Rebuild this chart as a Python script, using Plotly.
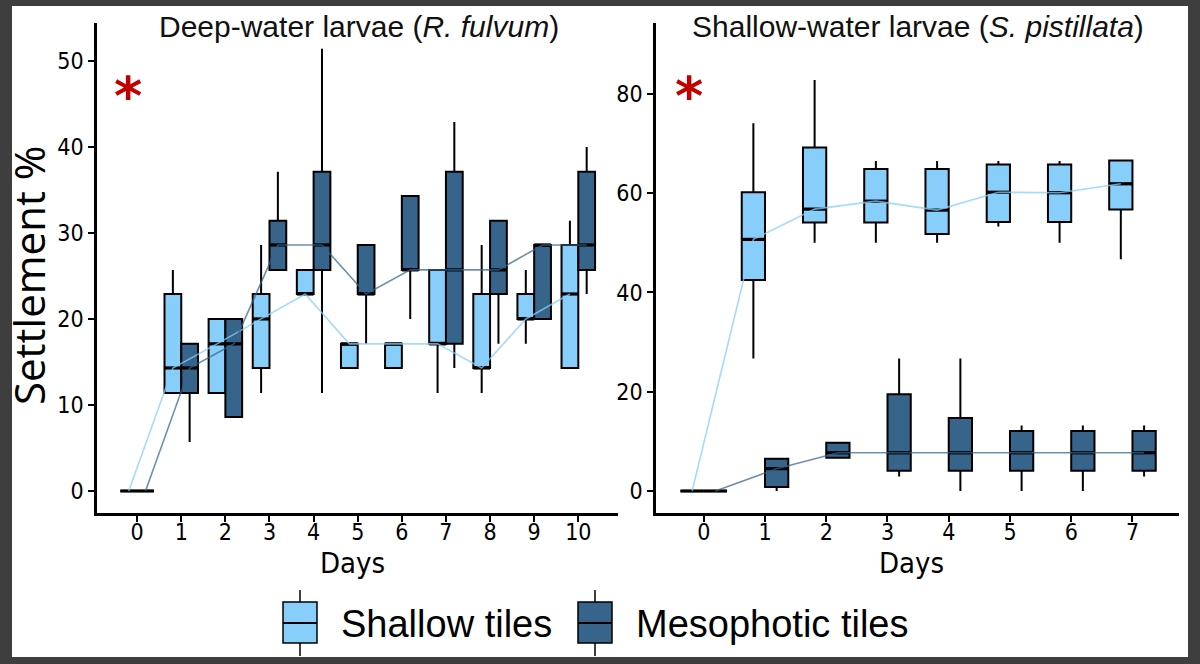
import numpy as np
import plotly.graph_objects as go

# ---- data: deep-water larvae (R. fulvum), days 0-10 ----
days_deep = np.arange(0, 11)
deep_sh_q1 = [0, 11.4, 11.4, 14.3, 22.9, 14.3, 14.3, 17.1, 14.3, 20.0, 14.3]
deep_sh_med = [0, 14.3, 17.1, 20.0, 22.9, 17.1, 17.1, 17.1, 14.3, 20.0, 22.9]
deep_sh_q3 = [0, 22.9, 20.0, 22.9, 25.7, 17.1, 17.1, 25.7, 22.9, 22.9, 28.6]
deep_sh_lo = [0, 11.4, 11.4, 11.4, 22.9, 14.3, 14.3, 11.4, 11.4, 17.1, 14.3]
deep_sh_hi = [0, 25.7, 20.0, 28.6, 25.7, 17.1, 17.1, 25.7, 28.6, 25.7, 31.4]

deep_me_q1 = [0, 11.4, 8.6, 25.7, 25.7, 22.9, 25.7, 17.1, 22.9, 20.0, 25.7]
deep_me_med = [0, 14.3, 17.1, 28.6, 28.6, 22.9, 25.7, 25.7, 25.7, 28.6, 28.6]
deep_me_q3 = [0, 17.1, 20.0, 31.4, 37.1, 28.6, 34.3, 37.1, 31.4, 28.6, 37.1]
deep_me_lo = [0, 5.7, 8.6, 25.7, 11.4, 17.1, 20.0, 14.3, 17.1, 20.0, 22.9]
deep_me_hi = [0, 17.1, 20.0, 37.1, 51.4, 28.6, 34.3, 42.9, 31.4, 28.6, 40.0]

# ---- data: shallow-water larvae (S. pistillata), days 0-7 ----
days_shal = np.arange(0, 8)
shal_sh_q1 = [0, 42.5, 54.1, 54.1, 51.8, 54.2, 54.2, 56.7]
shal_sh_med = [0, 50.7, 56.8, 58.4, 56.6, 60.2, 60.1, 61.9]
shal_sh_q3 = [0, 60.2, 69.2, 64.9, 64.9, 65.8, 65.8, 66.6]
shal_sh_lo = [0, 26.7, 50.0, 50.0, 50.0, 53.3, 50.0, 46.7]
shal_sh_hi = [0, 74.1, 82.8, 66.5, 66.5, 66.5, 66.5, 66.6]

shal_me_q1 = [0, 0.8, 6.7, 4.1, 4.1, 4.1, 4.1, 4.1]
shal_me_med = [0, 4.5, 7.7, 7.7, 7.7, 7.7, 7.7, 7.7]
shal_me_q3 = [0, 6.5, 9.7, 19.5, 14.7, 12.1, 12.1, 12.1]
shal_me_lo = [0, 0.0, 6.7, 2.9, 0.0, 0.0, 0.0, 2.9]
shal_me_hi = [0, 6.7, 9.9, 26.7, 26.7, 13.2, 13.2, 13.2]

SH_FILL = "#87CEFA"
ME_FILL = "#36648B"
SH_LINE = "rgba(135,206,250,0.75)"
ME_LINE = "rgba(54,100,139,0.72)"
NARROW = "DejaVu Sans Condensed, Roboto Condensed, Roboto"
W = 1200
H = 664
DODGE = 0.19
BW = 0.38


def px(x):
    return x / W


def py(y):
    return 1 - y / H


fig = go.Figure()


def add_panel(days, groups, xa, ya):
    for fill, line, off, q1, med, q3, lo, hi in groups:
        xs = days + off
        fig.add_trace(go.Box(
            x=xs, q1=q1, median=med, q3=q3, lowerfence=lo, upperfence=hi,
            width=BW, fillcolor=fill, line=dict(color="black", width=2),
            whiskerwidth=0, boxpoints=False, showlegend=False,
            xaxis=xa, yaxis=ya,
        ))
    # thicker median bars, like ggplot's fatten
    for fill, line, off, q1, med, q3, lo, hi in groups:
        mx, my = [], []
        for c, m in zip(days + off, med):
            mx += [c - BW / 2, c + BW / 2, None]
            my += [m, m, None]
        fig.add_trace(go.Scatter(
            x=mx, y=my, mode="lines", line=dict(color="black", width=3.2),
            showlegend=False, hoverinfo="skip", xaxis=xa, yaxis=ya,
        ))
    for fill, line, off, q1, med, q3, lo, hi in groups:
        fig.add_trace(go.Scatter(
            x=days + off, y=med, mode="lines",
            line=dict(color=line, width=1.6), showlegend=False,
            hoverinfo="skip", xaxis=xa, yaxis=ya,
        ))


add_panel(days_deep, [
    (SH_FILL, SH_LINE, -DODGE, deep_sh_q1, deep_sh_med, deep_sh_q3, deep_sh_lo, deep_sh_hi),
    (ME_FILL, ME_LINE, DODGE, deep_me_q1, deep_me_med, deep_me_q3, deep_me_lo, deep_me_hi),
], "x", "y")
add_panel(days_shal, [
    (SH_FILL, SH_LINE, -DODGE, shal_sh_q1, shal_sh_med, shal_sh_q3, shal_sh_lo, shal_sh_hi),
    (ME_FILL, ME_LINE, DODGE, shal_me_q1, shal_me_med, shal_me_q3, shal_me_lo, shal_me_hi),
], "x2", "y2")

tickfont = dict(family=NARROW, size=23, color="black")
axis_common = dict(showline=True, linecolor="black", linewidth=2.5, ticks="outside",
                   ticklen=6, tickwidth=2, tickcolor="black", showgrid=False,
                   zeroline=False, tickfont=tickfont, fixedrange=True)
ydom = [py(513), py(23)]

fig.update_layout(
    width=W, height=H,
    margin=dict(l=0, r=0, t=0, b=0),
    paper_bgcolor="#3e3e3e",
    plot_bgcolor="white",
    boxmode="overlay",
    xaxis=dict(domain=[px(97), px(618)], range=[-0.91, 10.9], tickvals=list(days_deep),
               anchor="y", ticklabelstandoff=-9, **axis_common),
    yaxis=dict(domain=ydom, range=[-2.56, 54.4], tickvals=[0, 10, 20, 30, 40, 50],
               anchor="x", **axis_common),
    xaxis2=dict(domain=[px(656), px(1179)], range=[-0.78, 7.76], tickvals=list(days_shal),
                anchor="y2", ticklabelstandoff=-9, **axis_common),
    yaxis2=dict(domain=ydom, range=[-4.43, 94.3], tickvals=[0, 20, 40, 60, 80],
                anchor="x2", **axis_common),
)

# white page inside the dark frame
fig.add_shape(type="rect", xref="paper", yref="paper", x0=px(12), x1=px(1188),
              y0=py(657), y1=py(6), fillcolor="white", line=dict(width=0), layer="below")

ann = []
title_font = dict(family="Liberation Sans", size=30, color="#111111")
ann.append(dict(x=px(359), y=py(26), text="Deep-water larvae (<i>R. fulvum</i>)", font=title_font))
ann.append(dict(x=px(918), y=py(26), text="Shallow-water larvae (<i>S. pistillata</i>)", font=title_font))
days_font = dict(family=NARROW, size=29, color="black")
ann.append(dict(x=px(352), y=py(563), text="Days", font=days_font))
ann.append(dict(x=px(911), y=py(563), text="Days", font=days_font))
ann.append(dict(x=px(28), y=py(275), text="Settlement %", textangle=-90,
                font=dict(family="Open Sans", size=42, color="black")))
star_font = dict(family="DejaVu Sans", size=54, color="#C00000", weight="bold")
ann.append(dict(x=px(128), y=py(96), text="*", font=star_font))
ann.append(dict(x=px(689), y=py(96), text="*", font=star_font))

# legend
leg_font = dict(family="Liberation Sans", size=38, color="black")
for x0, fill, label in [(283, SH_FILL, "Shallow tiles"), (578, ME_FILL, "Mesophotic tiles")]:
    xc = x0 + 17
    fig.add_shape(type="line", xref="paper", yref="paper", x0=px(xc), x1=px(xc),
                  y0=py(590), y1=py(656), line=dict(color="black", width=1.5))
    fig.add_shape(type="rect", xref="paper", yref="paper", x0=px(x0), x1=px(x0 + 34),
                  y0=py(643), y1=py(602), fillcolor=fill, line=dict(color="black", width=1.5))
    fig.add_shape(type="line", xref="paper", yref="paper", x0=px(x0), x1=px(x0 + 34),
                  y0=py(623), y1=py(623), line=dict(color="black", width=2))
    ann.append(dict(x=px(x0 + 56), y=py(624), text=label, xanchor="left", font=leg_font))

for a in ann:
    a.setdefault("xanchor", "center")
    a.update(xref="paper", yref="paper", yanchor="middle", showarrow=False)
    fig.add_annotation(**a)

fig.write_html("out.html", config={"displayModeBar": False},
               post_script="document.body.style.margin='0px';")
